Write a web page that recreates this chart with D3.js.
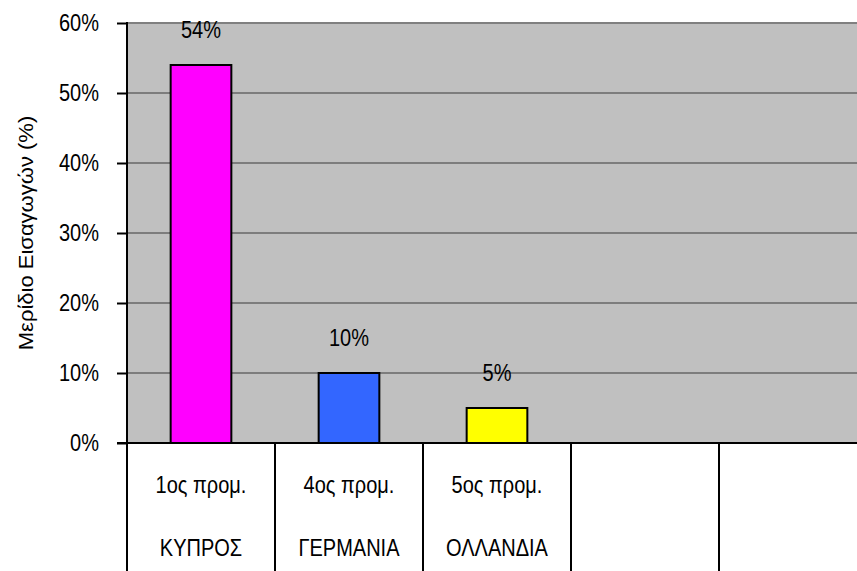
<!DOCTYPE html>
<html>
<head>
<meta charset="utf-8">
<script src="https://cdn.jsdelivr.net/npm/d3@7"></script>
<style>
  html, body { margin: 0; padding: 0; background: #ffffff; }
  svg { display: block; }
  text { font-family: "Liberation Sans", Arial, sans-serif; fill: #000; }
</style>
</head>
<body>
<svg id="chart" width="857" height="571"></svg>
<script>
// Import share by partner country (five table columns, last two empty)
const slots = ["c1", "c2", "c3", "c4", "c5"];
const countries = ["ΚΥΠΡΟΣ", "ΓΕΡΜΑΝΙΑ", "ΟΛΛΑΝΔΙΑ", "", ""];
const ranks = ["1ος προμ.", "4ος προμ.", "5ος προμ.", "", ""];
const shares = [0.54, 0.10, 0.05];
const barColors = ["#FF00FF", "#3366FF", "#FFFF00"];
const yTicks = [0, 0.1, 0.2, 0.3, 0.4, 0.5, 0.6];
const yTitle = "Μερίδιο Εισαγωγών (%)";

const svg = d3.select("#chart");
const W = 857, H = 571;
const plotLeft = 127, plotTop = 23, plotBottom = 443;
const plotRight = plotLeft + 5 * 148;
const stretch = 1.15; // tall, narrow lettering

const x = d3.scaleBand().domain(slots).range([plotLeft, plotRight])
  .paddingInner(0.59).paddingOuter(0.295);
const step = x.step();
const y = d3.scaleLinear().domain([0, 0.6]).range([plotBottom, plotTop]);

// plot background
svg.append("rect")
  .attr("x", plotLeft).attr("y", y(0.6))
  .attr("width", plotRight - plotLeft).attr("height", y(0) - y(0.6))
  .attr("fill", "#C0C0C0");

// gridlines
svg.append("g").selectAll("line")
  .data(yTicks.filter(d => d > 0))
  .join("line")
  .attr("x1", plotLeft).attr("x2", plotRight)
  .attr("y1", d => y(d)).attr("y2", d => y(d))
  .attr("stroke", d => d === 0.6 ? "#808080" : "#3a3a3a")
  .attr("stroke-width", d => d === 0.6 ? 2 : 1);

// bars
svg.append("g").selectAll("rect")
  .data(shares)
  .join("rect")
  .attr("x", (d, i) => x(slots[i]))
  .attr("y", d => y(d))
  .attr("width", x.bandwidth())
  .attr("height", d => y(0) - y(d))
  .attr("fill", (d, i) => barColors[i])
  .attr("stroke", "#000")
  .attr("stroke-width", 2);

// value labels
svg.append("g").selectAll("text")
  .data(shares)
  .join("text")
  .attr("transform", (d, i) =>
    `translate(${x(slots[i]) + x.bandwidth() / 2},${y(d) - 27}) scale(1,${stretch})`)
  .attr("text-anchor", "middle")
  .attr("font-size", 20)
  .text(d => d3.format(".0%")(d));

// y axis
const yAxis = d3.axisLeft(y).tickValues(yTicks).tickFormat(d3.format(".0%"))
  .tickSize(10).tickPadding(18);
const gy = svg.append("g").attr("transform", `translate(${plotLeft},0)`).call(yAxis);
gy.select(".domain").remove();
gy.selectAll(".tick line").attr("stroke", "#000").attr("stroke-width", 2);
gy.selectAll(".tick text").attr("font-size", 20)
  .attr("transform", `scale(1,${stretch})`)
  .attr("font-family", "Liberation Sans, Arial, sans-serif").attr("fill", "#000");

// axis lines: vertical runs down through the category table
svg.append("line").attr("x1", plotLeft).attr("x2", plotLeft)
  .attr("y1", plotTop - 1).attr("y2", H)
  .attr("stroke", "#000").attr("stroke-width", 2);
svg.append("line").attr("x1", plotLeft - 10).attr("x2", W)
  .attr("y1", plotBottom).attr("y2", plotBottom)
  .attr("stroke", "#000").attr("stroke-width", 2);

// category table dividers
svg.append("g").selectAll("line")
  .data(slots.slice(1))
  .join("line")
  .attr("x1", d => x(d) - step * x.paddingInner() / 2)
  .attr("x2", d => x(d) - step * x.paddingInner() / 2)
  .attr("y1", plotBottom).attr("y2", H)
  .attr("stroke", "#000").attr("stroke-width", 2);

// category labels: rank row and country row
const cx = d => x(d) + x.bandwidth() / 2;
svg.append("g").selectAll("text")
  .data(slots)
  .join("text")
  .attr("transform", d => `translate(${cx(d)},493) scale(1,${stretch})`)
  .attr("text-anchor", "middle").attr("font-size", 20)
  .text((d, i) => ranks[i]);
svg.append("g").selectAll("text")
  .data(slots)
  .join("text")
  .attr("transform", d => `translate(${cx(d)},556) scale(1,${stretch})`)
  .attr("text-anchor", "middle").attr("font-size", 20)
  .text((d, i) => countries[i]);

// y axis title
svg.append("text")
  .attr("transform", `translate(33,${(plotTop + plotBottom) / 2}) rotate(-90) scale(1.1,1)`)
  .attr("text-anchor", "middle").attr("font-size", 20)
  .text(yTitle);
</script>
</body>
</html>
